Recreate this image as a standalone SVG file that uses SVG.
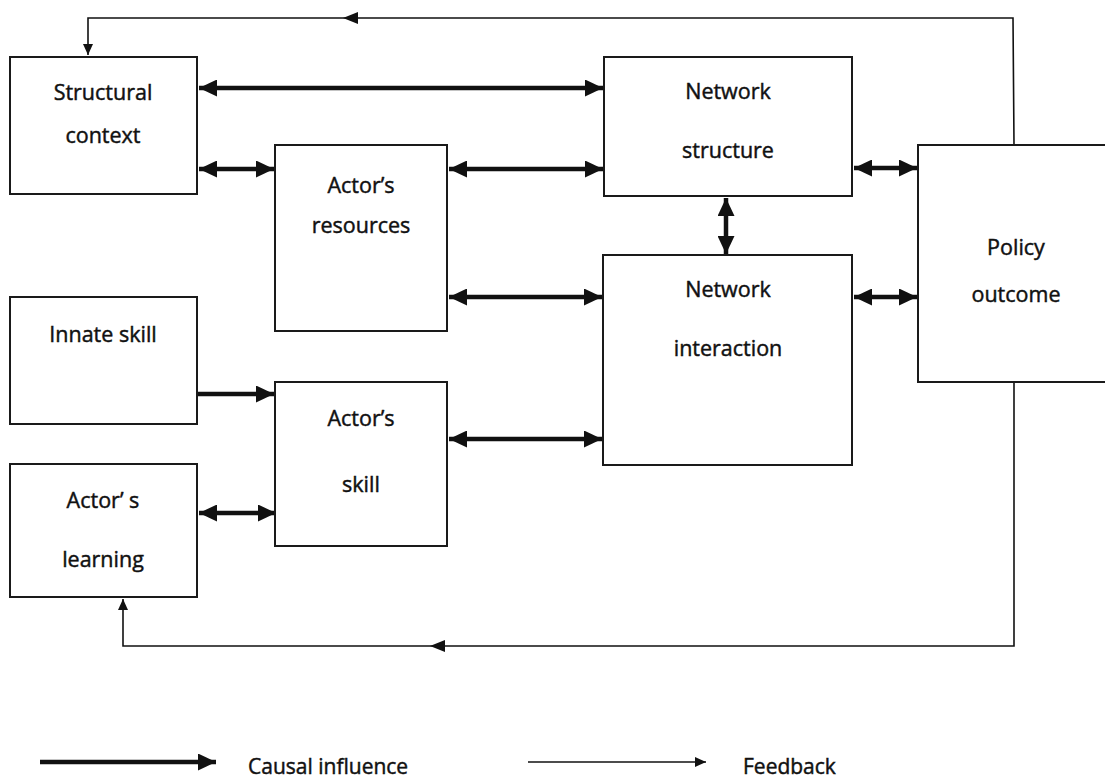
<svg xmlns="http://www.w3.org/2000/svg" width="1105" height="780" viewBox="0 0 1105 780">
  <style>
    .box { fill: #fff; stroke: #1a1a1a; stroke-width: 2; }
    .lbl { font-family: "Open Sans", "Noto Sans", "DejaVu Sans", sans-serif; font-size: 21.5px; fill: #111; stroke: #111; stroke-width: 0.45; text-anchor: middle; }
    .leg { font-family: "Open Sans", "Noto Sans", "DejaVu Sans", sans-serif; font-size: 21px; fill: #111; stroke: #111; stroke-width: 0.45; }
    .causal { fill: none; stroke: #111; stroke-width: 4.5; }
    .fb { fill: none; stroke: #111; stroke-width: 1.6; }
  </style>
  <defs>
    <marker id="headThick" markerUnits="userSpaceOnUse" markerWidth="19" markerHeight="17" refX="18" refY="8.5" orient="auto-start-reverse">
      <path d="M0,0 L18,8.5 L0,17 Z" fill="#111"/>
    </marker>
    <marker id="headThin" markerUnits="userSpaceOnUse" markerWidth="12" markerHeight="10" refX="11" refY="5" orient="auto-start-reverse">
      <path d="M0,0 L11,5 L0,10 Z" fill="#111"/>
    </marker>
  </defs>

  <!-- connectors -->
  <g id="connectors">
    <!-- feedback loop to structural context -->
    <path class="fb" d="M1014,145 L1013,18 L88,18 L88,55" marker-end="url(#headThin)"/>
    <path d="M343,18 L358,12 L358,24 Z" fill="#111"/>
    <!-- feedback loop to actor's learning -->
    <path class="fb" d="M1014,382 L1014,646 L123,646 L123,599" marker-end="url(#headThin)"/>
    <path d="M430,646 L445,640 L445,652 Z" fill="#111"/>

    <!-- causal links -->
    <line class="causal" x1="199" y1="88" x2="603" y2="88" marker-start="url(#headThick)" marker-end="url(#headThick)"/>
    <line class="causal" x1="199" y1="169" x2="274" y2="169" marker-start="url(#headThick)" marker-end="url(#headThick)"/>
    <line class="causal" x1="449" y1="169" x2="603" y2="169" marker-start="url(#headThick)" marker-end="url(#headThick)"/>
    <line class="causal" x1="854" y1="168" x2="917" y2="168" marker-start="url(#headThick)" marker-end="url(#headThick)"/>
    <line class="causal" x1="726" y1="198" x2="726" y2="254" marker-start="url(#headThick)" marker-end="url(#headThick)"/>
    <line class="causal" x1="449" y1="297" x2="602" y2="297" marker-start="url(#headThick)" marker-end="url(#headThick)"/>
    <line class="causal" x1="854" y1="297" x2="917" y2="297" marker-start="url(#headThick)" marker-end="url(#headThick)"/>
    <line class="causal" x1="198" y1="394" x2="274" y2="394" marker-end="url(#headThick)"/>
    <line class="causal" x1="449" y1="439" x2="602" y2="439" marker-start="url(#headThick)" marker-end="url(#headThick)"/>
    <line class="causal" x1="199" y1="513" x2="276" y2="513" marker-start="url(#headThick)" marker-end="url(#headThick)"/>
  </g>

  <!-- nodes -->
  <g id="structural-context">
    <rect class="box" x="10" y="57" width="187" height="137"/>
    <text class="lbl" x="103" y="100">Structural</text>
    <text class="lbl" x="103" y="143">context</text>
  </g>
  <g id="actors-resources">
    <rect class="box" x="275" y="145" width="172" height="186"/>
    <text class="lbl" x="361" y="193">Actor’s</text>
    <text class="lbl" x="361" y="233">resources</text>
  </g>
  <g id="network-structure">
    <rect class="box" x="604" y="57" width="248" height="139"/>
    <text class="lbl" x="728" y="99">Network</text>
    <text class="lbl" x="728" y="158">structure</text>
  </g>
  <g id="network-interaction">
    <rect class="box" x="603" y="255" width="249" height="210"/>
    <text class="lbl" x="728" y="297">Network</text>
    <text class="lbl" x="728" y="356">interaction</text>
  </g>
  <g id="policy-outcome">
    <rect class="box" x="918" y="145" width="190" height="237"/>
    <text class="lbl" x="1016" y="255">Policy</text>
    <text class="lbl" x="1016" y="302">outcome</text>
  </g>
  <g id="innate-skill">
    <rect class="box" x="10" y="297" width="187" height="127"/>
    <text class="lbl" x="103" y="342">Innate skill</text>
  </g>
  <g id="actors-skill">
    <rect class="box" x="275" y="382" width="172" height="164"/>
    <text class="lbl" x="361" y="426">Actor’s</text>
    <text class="lbl" x="361" y="492">skill</text>
  </g>
  <g id="actors-learning">
    <rect class="box" x="10" y="464" width="187" height="133"/>
    <text class="lbl" x="103" y="508">Actor’ s</text>
    <text class="lbl" x="103" y="567">learning</text>
  </g>

  <!-- legend -->
  <g id="legend">
    <line class="causal" x1="40" y1="762" x2="216" y2="762" marker-end="url(#headThick)"/>
    <text class="leg" x="248" y="774">Causal influence</text>
    <line class="fb" x1="528" y1="762" x2="706" y2="762" marker-end="url(#headThin)"/>
    <text class="leg" x="743" y="774">Feedback</text>
  </g>
</svg>
